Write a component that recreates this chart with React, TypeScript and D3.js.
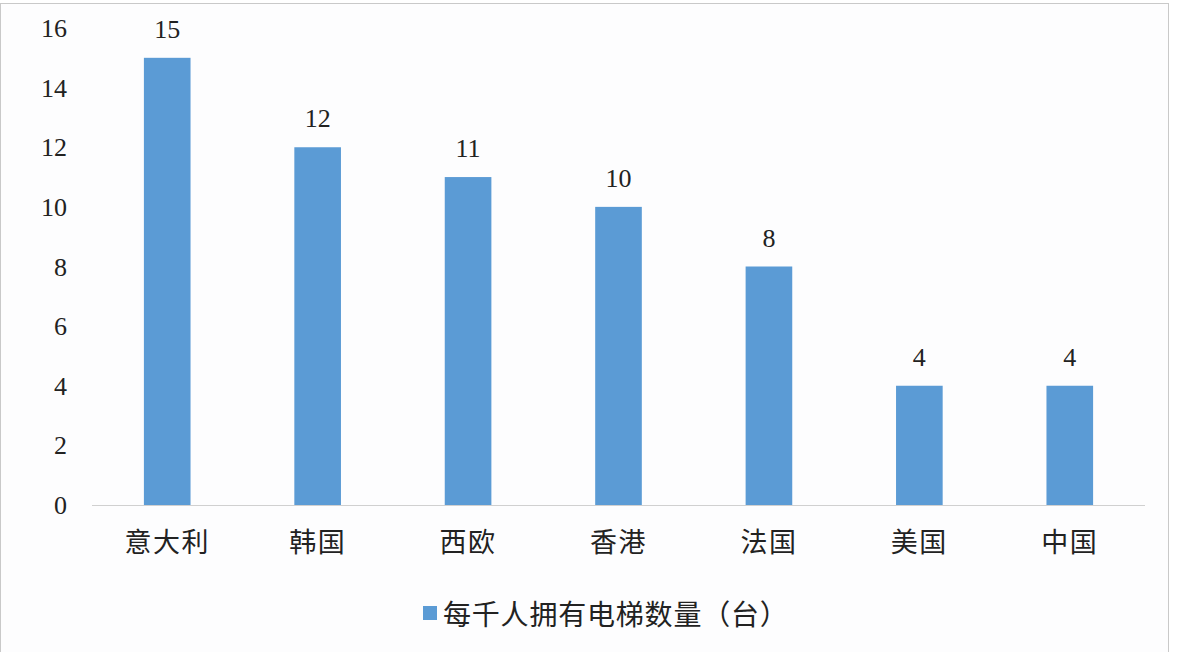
import { useEffect, useRef } from "react";
import * as d3 from "d3";

const categories = ["意大利", "韩国", "西欧", "香港", "法国", "美国", "中国"];
const values = [15, 12, 11, 10, 8, 4, 4];
const yTicks = [0, 2, 4, 6, 8, 10, 12, 14, 16];
const seriesName = "每千人拥有电梯数量（台）";

const W = 1178;
const H = 652;
const BAR = "#5b9bd5";

export default function App() {
  const ref = useRef<SVGSVGElement>(null);

  useEffect(() => {
    document.body.style.margin = "0";
    const svg = d3.select(ref.current);
    svg.selectAll("*").remove();

    const margin = { top: 28, right: 33, bottom: 147, left: 92 };
    const x = d3
      .scaleBand()
      .domain(categories)
      .range([margin.left, W - margin.right])
      .paddingInner(0.69)
      .paddingOuter(0.345);
    const y = d3.scaleLinear().domain([0, 16]).range([H - margin.bottom, margin.top]);

    // background and outer frame
    svg
      .append("rect")
      .attr("x", 0.5)
      .attr("y", 3.5)
      .attr("width", 1168)
      .attr("height", H + 10)
      .attr("fill", "#fdfdfe")
      .attr("stroke", "#c9c9c9");

    // y tick labels
    svg
      .append("g")
      .selectAll("text")
      .data(yTicks)
      .enter()
      .append("text")
      .attr("x", 67)
      .attr("y", (d) => y(d))
      .attr("dy", "0.35em")
      .attr("text-anchor", "end")
      .style("font-family", "'Liberation Serif', serif")
      .style("font-size", "26px")
      .attr("fill", "#222")
      .text((d) => d);

    // bars
    svg
      .append("g")
      .selectAll("rect")
      .data(values)
      .enter()
      .append("rect")
      .attr("x", (_, i) => x(categories[i])!)
      .attr("y", (d) => y(d))
      .attr("width", x.bandwidth())
      .attr("height", (d) => y(0) - y(d))
      .attr("fill", BAR);

    // baseline
    svg
      .append("line")
      .attr("x1", margin.left)
      .attr("x2", W - margin.right)
      .attr("y1", y(0) + 0.5)
      .attr("y2", y(0) + 0.5)
      .attr("stroke", "#d0d0d0");

    // value labels
    svg
      .append("g")
      .selectAll("text")
      .data(values)
      .enter()
      .append("text")
      .attr("x", (_, i) => x(categories[i])! + x.bandwidth() / 2)
      .attr("y", (d) => y(d) - 20)
      .attr("text-anchor", "middle")
      .style("font-family", "'Liberation Serif', serif")
      .style("font-size", "26px")
      .attr("fill", "#222")
      .text((d) => d);

    // category labels
    svg
      .append("g")
      .selectAll("text")
      .data(categories)
      .enter()
      .append("text")
      .attr("x", (d) => x(d)! + x.bandwidth() / 2)
      .attr("y", 540)
      .attr("dominant-baseline", "central")
      .attr("text-anchor", "middle")
      .style("font-family", "'Noto Sans CJK SC', sans-serif")
      .style("font-size", "27px")
      .style("letter-spacing", "1.5px")
      .attr("fill", "#222")
      .text((d) => d);

    // legend
    const legend = svg.append("g").attr("transform", "translate(423,613)");
    legend
      .append("rect")
      .attr("x", 0)
      .attr("y", -7)
      .attr("width", 14)
      .attr("height", 14)
      .attr("fill", BAR);
    legend
      .append("text")
      .attr("x", 20)
      .attr("y", 0)
      .attr("dominant-baseline", "central")
      .style("font-family", "'Noto Sans CJK SC', sans-serif")
      .style("font-size", "28px")
      .style("letter-spacing", "0.8px")
      .attr("fill", "#222")
      .text(seriesName);
  }, []);

  return <svg ref={ref} width={W} height={H} style={{ display: "block" }} />;
}
